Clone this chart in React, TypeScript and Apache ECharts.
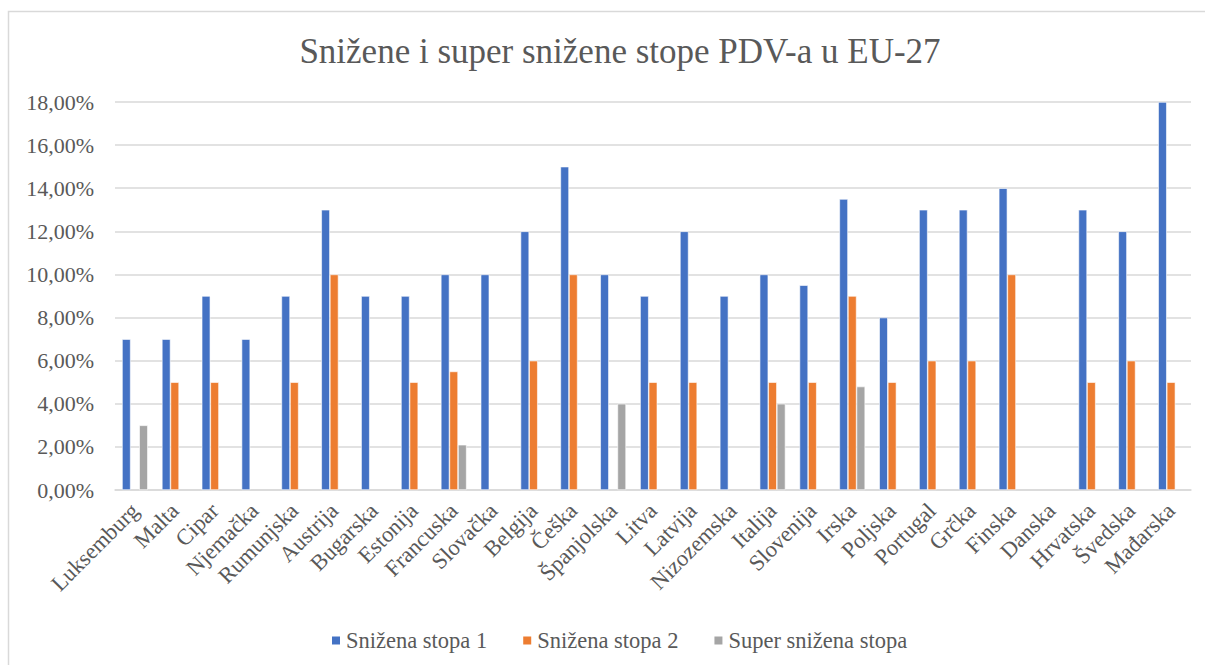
import React, { useEffect, useRef } from "react";
import * as echarts from "echarts";

const countries = [
  "Luksemburg", "Malta", "Cipar", "Njemačka", "Rumunjska", "Austrija", "Bugarska",
  "Estonija", "Francuska", "Slovačka", "Belgija", "Češka", "Španjolska", "Litva",
  "Latvija", "Nizozemska", "Italija", "Slovenija", "Irska", "Poljska", "Portugal",
  "Grčka", "Finska", "Danska", "Hrvatska", "Švedska", "Mađarska",
];

const reducedRate1 = [
  7, 7, 9, 7, 9, 13, 9, 9, 10, 10, 12, 15, 10, 9, 12, 9, 10, 9.5, 13.5, 8, 13, 13, 14, null, 13, 12, 18,
];
const reducedRate2 = [
  null, 5, 5, null, 5, 10, null, 5, 5.5, null, 6, 10, null, 5, 5, null, 5, 5, 9, 5, 6, 6, 10, null, 5, 6, 5,
];
const superReducedRate = [
  3, null, null, null, null, null, null, null, 2.1, null, null, null, 4, null, null, null, 4, null, 4.8, null, null, null, null, null, null, null, null,
];

const seriesNames = ["Snižena stopa 1", "Snižena stopa 2", "Super snižena stopa"];
const yTicks = { min: 0, max: 18, interval: 2 };
const chartTitle = "Snižene i super snižene stope PDV-a u EU-27";

const FONT = "'Liberation Serif', 'Times New Roman', serif";
const TEXT = "#595959";

export default function App() {
  const ref = useRef<HTMLDivElement>(null);
  useEffect(() => {
    document.body.style.margin = "0";
    const chart = echarts.init(ref.current!, null, { renderer: "svg" });
    const colors = ["#4472C4", "#ED7D31", "#A5A5A5"];
    const data = [reducedRate1, reducedRate2, superReducedRate];
    chart.setOption({
      animation: false,
      backgroundColor: "#fff",
      title: {
        text: chartTitle,
        left: 615,
        top: 29,
        textAlign: "center",
        textStyle: { fontFamily: FONT, fontSize: 35, fontWeight: "normal", color: TEXT },
      },
      graphic: [
        {
          type: "rect",
          shape: { x: 8.5, y: 11.5, width: 1300, height: 1000 },
          style: { fill: "none", stroke: "#d9d9d9", lineWidth: 1.5 },
          silent: true,
        },
      ],
      legend: {
        data: seriesNames,
        left: 325,
        top: 624,
        itemWidth: 10,
        itemHeight: 10,
        itemGap: 34,
        icon: "rect",
        textStyle: { fontFamily: FONT, fontSize: 22.5, color: TEXT },
      },
      grid: { left: 115, right: 14, top: 102, bottom: 175, containLabel: false },
      xAxis: {
        type: "category",
        data: countries,
        axisLine: { lineStyle: { color: "#d9d9d9", width: 1.5 } },
        axisTick: { show: false },
        axisLabel: {
          interval: 0,
          rotate: 45,
          margin: 17,
          fontFamily: FONT,
          fontSize: 22.5,
          color: TEXT,
        },
      },
      yAxis: {
        type: "value",
        min: yTicks.min,
        max: yTicks.max,
        interval: yTicks.interval,
        axisLine: { show: false },
        axisTick: { show: false },
        splitLine: { lineStyle: { color: "#d9d9d9", width: 1.5 } },
        axisLabel: {
          margin: 21,
          fontFamily: FONT,
          fontSize: 22,
          color: TEXT,
          formatter: (v: number) => v.toFixed(2).replace(".", ",") + "%",
        },
      },
      series: seriesNames.map((name, i) => ({
        name,
        type: "bar",
        data: data[i],
        barWidth: 8.6,
        barGap: "0%",
        itemStyle: { color: colors[i], borderColor: "#fff", borderWidth: 0.6 },
      })),
    });
    return () => chart.dispose();
  }, []);
  return <div ref={ref} style={{ width: 1205, height: 665 }} />;
}
